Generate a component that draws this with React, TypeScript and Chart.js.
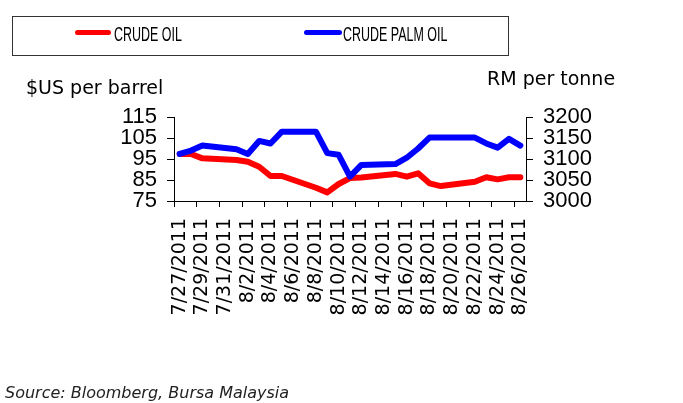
import React, { useEffect, useRef } from "react";
import { Chart, registerables } from "chart.js";

Chart.register(...registerables);

const dates = [
  "7/27/2011", "7/28/2011", "7/29/2011", "7/30/2011", "7/31/2011",
  "8/1/2011", "8/2/2011", "8/3/2011", "8/4/2011", "8/5/2011",
  "8/6/2011", "8/7/2011", "8/8/2011", "8/9/2011", "8/10/2011",
  "8/11/2011", "8/12/2011", "8/13/2011", "8/14/2011", "8/15/2011",
  "8/16/2011", "8/17/2011", "8/18/2011", "8/19/2011", "8/20/2011",
  "8/21/2011", "8/22/2011", "8/23/2011", "8/24/2011", "8/25/2011",
  "8/26/2011",
];

const crudeOil = [
  97.4, 97.4, 95.3, null, null,
  94.5, 93.7, 91.3, 86.9, 86.9,
  null, null, 81.3, 79.1, 83.1,
  85.9, 86.2, null, null, 87.9,
  86.6, 88.2, 83.4, 82.1, null,
  null, 84.2, 86.3, 85.3, 86.3,
  86.3,
];

const crudePalmOil = [
  3112, 3120, 3132, null, null,
  3123, 3112, 3143, 3137, 3165,
  null, null, 3165, 3114, 3110,
  3058, 3086, null, null, 3088,
  3103, 3125, 3151, 3151, null,
  null, 3151, 3137, 3127, 3148,
  3132,
];

const leftTicks = { min: 75, max: 115, step: 10 };
const rightTicks = { min: 3000, max: 3200, step: 50 };

const seriesNames = ["CRUDE OIL", "CRUDE PALM OIL"];
const leftTitle = "$US per barrel";
const rightTitle = "RM per tonne";
const sourceText = "Source: Bloomberg, Bursa Malaysia";

const tickFont = { family: "'Liberation Sans', Arial, sans-serif", size: 22 };

export default function App() {
  const canvasRef = useRef<HTMLCanvasElement | null>(null);

  useEffect(() => {
    const canvas = canvasRef.current;
    if (!canvas) return;
    const chart = new Chart(canvas, {
      type: "line",
      data: {
        labels: dates,
        datasets: [
          {
            label: seriesNames[0],
            data: crudeOil,
            borderColor: "#FF0000",
            backgroundColor: "#FF0000",
            borderWidth: 6,
            pointRadius: 0,
            tension: 0,
            spanGaps: true,
            borderJoinStyle: "round",
            borderCapStyle: "round",
            yAxisID: "y",
            order: 1,
          },
          {
            label: seriesNames[1],
            data: crudePalmOil,
            borderColor: "#0000FF",
            backgroundColor: "#0000FF",
            borderWidth: 6,
            pointRadius: 0,
            tension: 0,
            spanGaps: true,
            borderJoinStyle: "round",
            borderCapStyle: "round",
            yAxisID: "y1",
            order: 0,
          },
        ],
      },
      options: {
        responsive: false,
        animation: false,
        devicePixelRatio: 1,
        layout: { padding: { top: 117, left: 0, right: 0, bottom: 0 } },
        plugins: {
          legend: { display: false },
          tooltip: { enabled: false },
        },
        events: [],
        scales: {
          x: {
            type: "category",
            offset: true,
            grid: {
              offset: true,
              drawOnChartArea: false,
              drawTicks: true,
              tickLength: 6,
              tickWidth: 1,
              tickColor: (ctx: any) =>
                typeof ctx.index === "number" && ctx.index % 2 === 0
                  ? "#000"
                  : "rgba(0,0,0,0)",
              color: "rgba(0,0,0,0)",
            },
            border: { display: true, color: "#000", width: 1 },
            ticks: {
              autoSkip: false,
              minRotation: 90,
              maxRotation: 90,
              padding: 11,
              color: "#000",
              font: { family: "'DejaVu Sans', sans-serif", size: 19 },
              callback: (_v: any, i: number) => (i % 2 === 0 ? dates[i] : ""),
            },
            afterFit: (s: any) => {
              s.height = 202;
            },
          },
          y: {
            type: "linear",
            position: "left",
            min: leftTicks.min,
            max: leftTicks.max,
            grid: {
              drawOnChartArea: false,
              drawTicks: true,
              tickLength: 7,
              color: "#000",
              tickColor: "#000",
            },
            border: { display: true, color: "#000", width: 1 },
            ticks: {
              autoSkip: false,
              stepSize: leftTicks.step,
              padding: 10,
              color: "#000",
              font: tickFont,
              callback: (v: any) => String(v),
            },
            afterFit: (s: any) => {
              s.width = 174;
            },
          },
          y1: {
            type: "linear",
            position: "right",
            min: rightTicks.min,
            max: rightTicks.max,
            grid: {
              drawOnChartArea: false,
              drawTicks: true,
              tickLength: 7,
              color: "#000",
              tickColor: "#000",
            },
            border: { display: true, color: "#000", width: 1 },
            ticks: {
              autoSkip: false,
              stepSize: rightTicks.step,
              padding: 10,
              color: "#000",
              font: tickFont,
              callback: (v: any) => String(v),
            },
            afterFit: (s: any) => {
              s.width = 157;
            },
          },
        },
      },
    });
    return () => chart.destroy();
  }, []);

  const legendText: React.CSSProperties = {
    position: "absolute",
    top: 25,
    fontFamily: "'Liberation Sans', Arial, sans-serif",
    fontSize: 19.5,
    lineHeight: "19px",
    color: "#000",
    whiteSpace: "nowrap",
    transform: "scaleX(0.64)",
    transformOrigin: "left top",
  };
  const swatch: React.CSSProperties = {
    position: "absolute",
    top: 29.5,
    height: 5.5,
    borderRadius: 3,
  };
  const title: React.CSSProperties = {
    position: "absolute",
    fontFamily: "'DejaVu Sans', sans-serif",
    fontSize: 19,
    lineHeight: "19px",
    color: "#000",
    whiteSpace: "nowrap",
  };

  return (
    <div
      style={{
        position: "fixed",
        left: 0,
        top: 0,
        width: 683,
        height: 403,
        background: "#fff",
        overflow: "hidden",
      }}
    >
      <canvas
        ref={canvasRef}
        width={683}
        height={403}
        style={{ position: "absolute", left: 0, top: 0, width: 683, height: 403 }}
      />
      <div
        style={{
          position: "absolute",
          left: 12,
          top: 16,
          width: 497,
          height: 40,
          border: "1px solid #333",
          boxSizing: "border-box",
        }}
      />
      <div style={{ ...swatch, left: 75, width: 36, background: "#FF0000" }} />
      <span style={{ ...legendText, left: 114 }}>{seriesNames[0]}</span>
      <div style={{ ...swatch, left: 304, width: 38, background: "#0000FF" }} />
      <span style={{ ...legendText, left: 343 }}>{seriesNames[1]}</span>
      <span style={{ ...title, left: 26, top: 78 }}>{leftTitle}</span>
      <span style={{ ...title, left: 487, top: 69 }}>{rightTitle}</span>
      <span
        style={{
          position: "absolute",
          left: 5,
          top: 385,
          fontFamily: "'DejaVu Sans', sans-serif",
          fontStyle: "italic",
          fontSize: 16,
          lineHeight: "16px",
          color: "#222",
          whiteSpace: "nowrap",
        }}
      >
        {sourceText}
      </span>
    </div>
  );
}
